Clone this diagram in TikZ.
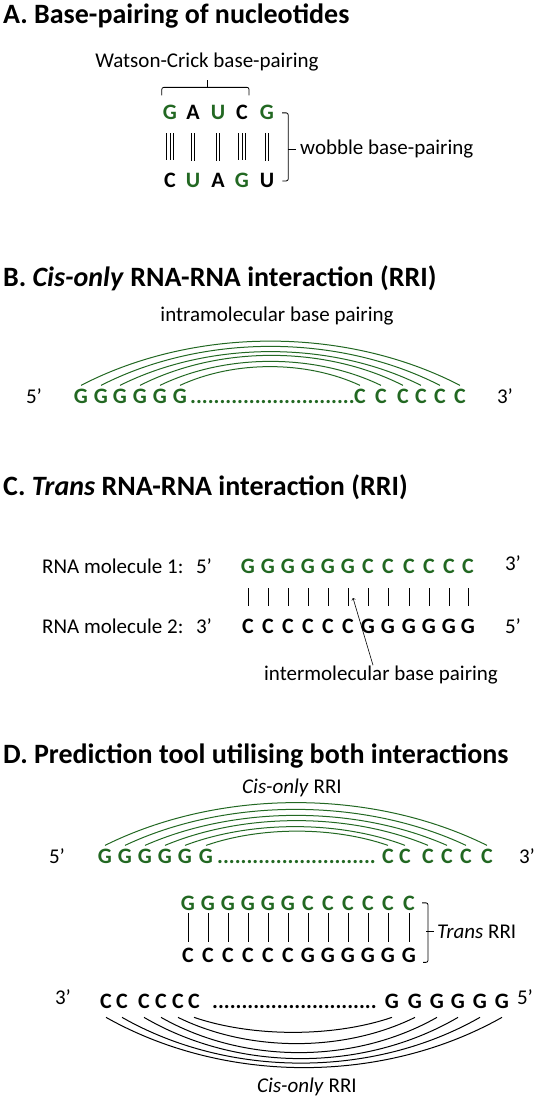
\documentclass[tikz,border=0pt]{standalone}
\usepackage{fontspec}
\setmainfont{Carlito}
\usetikzlibrary{positioning}
\definecolor{rnaGreen}{RGB}{34,104,34}

\begin{document}
\begin{tikzpicture}
[x=1pt,y=-1pt,
  titleText/.style={anchor=base west,inner sep=0pt,font=\fontsize{28}{31}\selectfont\bfseries},
  labelText/.style={anchor=base,inner sep=0pt,font=\fontsize{21}{24}\selectfont},
  baseLetter/.style={anchor=base,inner sep=1pt,font=\fontsize{22}{25}\selectfont\bfseries},
  greenBase/.style={baseLetter,text=rnaGreen},
  arcGreen/.style={draw=rnaGreen,line width=1pt},
  arcBlack/.style={draw=black,line width=1pt},
  barLine/.style={-,line width=0.8pt},
  braceLine/.style={-,line width=0.8pt,rounded corners=2pt}]
\useasboundingbox (0,0) rectangle (539,1099);

%% A. base pairing
\node[titleText] (titleA) at (3,24) {A. Base-pairing of nucleotides};
\node[labelText] (watson) at (207,68) {Watson-Crick base-pairing};
\foreach \i/\x/\topL/\botL/\topS/\botS in {
  1/170/G/C/greenBase/baseLetter, 2/193/A/U/baseLetter/greenBase,
  3/218/U/A/greenBase/baseLetter, 4/242/C/G/baseLetter/greenBase,
  5/267/G/U/greenBase/baseLetter}
{
  \node[\topS] (ta\i) at (\x,120) {\topL};
  \node[\botS] (ba\i) at (\x,188) {\botL};
}
\foreach \i/\s in {1/-3.3, 1/0, 1/3.3, 2/-1.7, 2/1.7, 3/-1.7, 3/1.7,
  4/-3.3, 4/0, 4/3.3, 5/-1.7, 5/1.7}
  \draw[barLine,shorten <=12pt,shorten >=12pt]
    ([xshift=\s pt]ta\i.south) -- ([xshift=\s pt]ta\i.south |- ba\i.north);
% brackets
\coordinate (wcL) at ([yshift=9pt]ta1.north west);
\coordinate (wcR) at ([yshift=9pt]ta4.north east);
\draw[braceLine] (wcL) -- ++(0,-8) -| (wcR);
\draw[braceLine] ([yshift=-8.5pt]watson.south) -- ++(0,7);
\node[labelText,anchor=base west] (wobble) at (300,155) {wobble base-pairing};
\coordinate (wbT) at ([xshift=7pt]ta5.east);
\coordinate (wbB) at ([xshift=7pt]ba5.east);
\draw[braceLine] (wbT) -- ++(6,0) |- (wbB);
\draw[braceLine] ([xshift=-4pt]wobble.west) -- ([xshift=-12pt]wobble.west);

%% B. cis only
\node[titleText] (titleB) at (3,286) {B. \textit{Cis-only} RNA-RNA interaction (RRI)};
\node[labelText] (intra) at (277,321) {intramolecular base pairing};
\node[labelText] (b5) at (34,403) {5’};
\foreach \i/\x in {1/81, 2/101, 3/120, 4/140, 5/160, 6/180}
  \node[greenBase] (bg\i) at (\x,403) {G};
\node[greenBase,anchor=base west] (bdots) at (189,403) {............................};
\foreach \i/\x in {1/360, 2/381, 3/403, 4/421, 5/440, 6/460}
  \node[greenBase] (bc\i) at (\x,403) {C};
\node[labelText] (b3) at (505,403) {3’};
\foreach \g/\c/\h/\d in {1/6/59/114, 2/5/52/102, 3/4/45/90, 4/3/40/79, 5/2/32/66, 6/1/25/54}
  \draw[arcGreen] ([yshift=2pt]bg\g.north) .. controls +(\d,-\h) and +(-\d,-\h) .. ([yshift=2pt]bc\c.north);

%% C. trans
\node[titleText] (titleC) at (3,495) {C. \textit{Trans} RNA-RNA interaction (RRI)};
\node[labelText,anchor=base west] (mol1) at (42,573) {RNA molecule 1:};
\node[labelText] (c5a) at (204,573) {5’};
\node[labelText] (c3a) at (513,570) {3’};
\node[labelText,anchor=base west] (mol2) at (42,633) {RNA molecule 2:};
\node[labelText] (c3b) at (204,633) {3’};
\node[labelText] (c5b) at (513,633) {5’};
\foreach \i/\x/\t/\b in {1/248/G/C, 2/268/G/C, 3/288/G/C, 4/308/G/C, 5/328/G/C, 6/348/G/C,
  7/368/C/G, 8/388/C/G, 9/409/C/G, 10/429/C/G, 11/449/C/G, 12/468/C/G}
{
  \node[greenBase] (ct\i) at (\x,573) {\t};
  \node[baseLetter] (cb\i) at (\x,633) {\b};
  \draw[barLine,shorten <=14pt,shorten >=11pt] (ct\i.south) -- (ct\i.south |- cb\i.north);
}
\node[labelText] (inter) at (381,680) {intermolecular base pairing};
\coordinate (interTip) at (353,598);
\draw[->,line width=0.6pt] ([xshift=-8pt]inter.north) -- (interTip);

%% D. both interactions
\node[titleText] (titleD) at (3,763) {D. Prediction tool utilising both interactions};
\node[labelText] (cisTop) at (292,793) {\textit{Cis-only} RRI};
\node[labelText] (d5a) at (57,863) {5’};
\foreach \i/\x in {1/105, 2/125, 3/145, 4/165, 5/185, 6/206}
  \node[greenBase] (dg\i) at (\x,863) {G};
\node[greenBase,anchor=base west] (ddots) at (216,863) {...........................};
\foreach \i/\x in {1/388, 2/405, 3/428, 4/447, 5/466, 6/487}
  \node[greenBase] (dc\i) at (\x,863) {C};
\node[labelText] (d3a) at (527,863) {3’};
\foreach \g/\c/\h/\d in {1/6/57/115, 2/5/48/102, 3/4/40/91, 4/3/33/79, 5/2/25/66, 6/1/19/55}
  \draw[arcGreen] ([yshift=2pt]dg\g.north) .. controls +(\d,-\h) and +(-\d,-\h) .. ([yshift=2pt]dc\c.north);

% trans part
\foreach \i/\x/\t/\b in {1/188/G/C, 2/208/G/C, 3/228/G/C, 4/248/G/C, 5/268/G/C, 6/288/G/C,
  7/308/C/G, 8/328/C/G, 9/348/C/G, 10/368/C/G, 11/388/C/G, 12/409/C/G}
{
  \node[greenBase] (dt\i) at (\x,910) {\t};
  \node[baseLetter] (db\i) at (\x,962) {\b};
  \draw[barLine,shorten <=2pt,shorten >=4pt] (dt\i.south) -- (dt\i.south |- db\i.north);
}
\node[labelText,anchor=base west] (transLbl) at (437,938) {\textit{Trans} RRI};
\coordinate (trT) at ([xshift=6pt]dt12.east);
\coordinate (trB) at ([xshift=6pt,yshift=1pt]db12.south east);
\draw[braceLine] (trT) -- ++(6,0) |- (trB);
\draw[braceLine] ([xshift=-3pt]transLbl.west) -- ([xshift=-11pt]transLbl.west);

% lower strand
\node[labelText] (d3b) at (63,1004) {3’};
\foreach \i/\x in {1/106, 2/122, 3/144, 4/161, 5/178, 6/194}
  \node[baseLetter] (lc\i) at (\x,1008) {C};
\node[baseLetter,anchor=base west] (ldots) at (211,1008) {............................};
\foreach \i/\x in {1/392, 2/415, 3/437, 4/458, 5/480, 6/502}
  \node[baseLetter] (lg\i) at (\x,1008) {G};
\node[labelText] (d5b) at (525,1004) {5’};
\foreach \c/\g/\h/\d in {1/6/67/119, 2/5/61/107, 3/4/55/94, 4/3/47/83, 5/2/35/71, 6/1/20/59}
  \draw[arcBlack] ([yshift=-8pt]lc\c.south) .. controls +(\d,\h) and +(-\d,\h) .. ([yshift=-8pt]lg\g.south);
\node[labelText] (cisBot) at (307,1092) {\textit{Cis-only} RRI};
\end{tikzpicture}
\end{document}
